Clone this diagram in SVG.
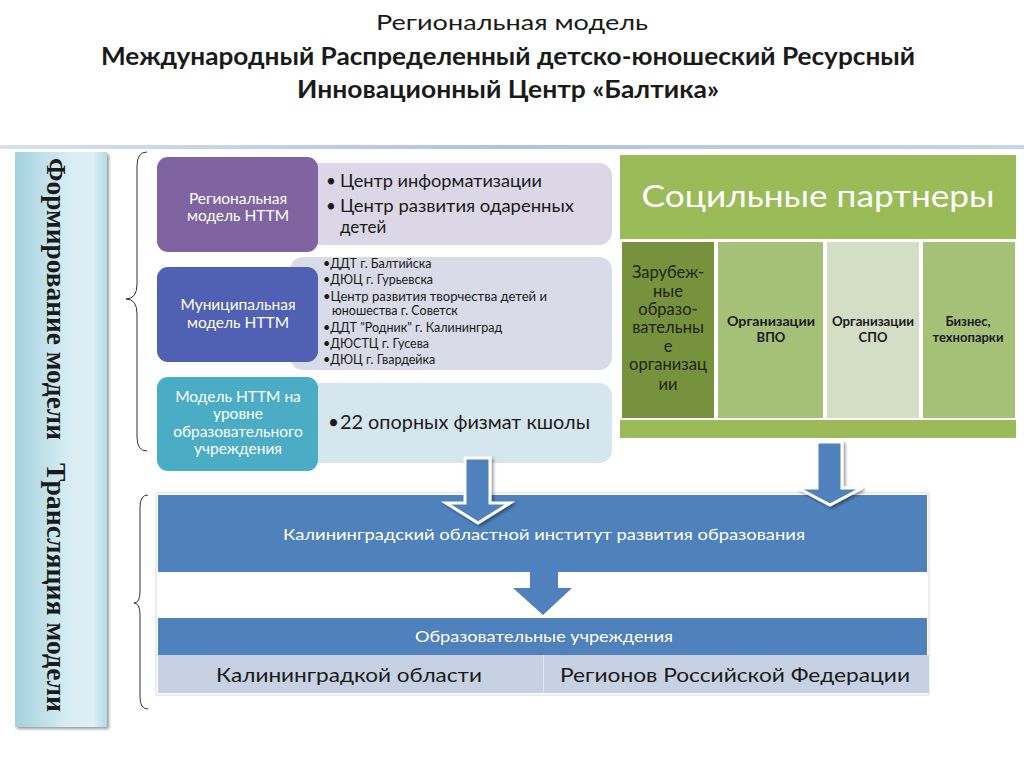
<svg xmlns="http://www.w3.org/2000/svg" width="1024" height="768" viewBox="0 0 1024 768">
<style>
.t{font-family:Lato,"Open Sans","Noto Sans",sans-serif}
.w{fill:#fff}
.d{fill:#1a1a1a}
.lbl{font-size:15.5px;fill:#fff;text-anchor:middle}
.brace{fill:none;stroke:#333;stroke-width:1}
.ar{fill:#4f81bd;stroke:#fff;stroke-width:3;stroke-linejoin:miter}
</style>
<defs>
<linearGradient id="hl" x1="0" x2="1" y1="0" y2="0">
<stop offset="0" stop-color="#d6e1f2"/>
<stop offset="0.5" stop-color="#adc2e3"/>
<stop offset="1" stop-color="#c6d5ec"/>
</linearGradient>
<linearGradient id="vb" x1="0" x2="1" y1="0" y2="0">
<stop offset="0" stop-color="#a2d1dd"/>
<stop offset="0.55" stop-color="#d6ecf2"/>
<stop offset="0.85" stop-color="#dff0f5"/>
<stop offset="1" stop-color="#b3dbe5"/>
</linearGradient>
<filter id="sh" x="-10%" y="-10%" width="130%" height="130%">
<feGaussianBlur in="SourceAlpha" stdDeviation="1.5"/>
<feOffset dx="1.5" dy="1.5"/>
<feComponentTransfer><feFuncA type="linear" slope="0.4"/></feComponentTransfer>
<feMerge><feMergeNode/><feMergeNode in="SourceGraphic"/></feMerge>
</filter>
</defs>
<rect width="1024" height="768" fill="#fff"/>

<g id="title" class="t d" text-anchor="middle">
<text x="512" y="30" font-size="22" textLength="272" lengthAdjust="spacingAndGlyphs">Региональная модель</text>
<text x="508" y="65" font-size="24" font-weight="bold" textLength="814" lengthAdjust="spacingAndGlyphs">Международный Распределенный детско-юношеский Ресурсный</text>
<text x="508" y="98" font-size="24" font-weight="bold" textLength="422" lengthAdjust="spacingAndGlyphs">Инновационный Центр «Балтика»</text>
</g>

<rect id="hline" x="0" y="145" width="1024" height="4" fill="url(#hl)"/>

<g id="sidebar">
<rect x="15" y="152" width="92" height="575" fill="url(#vb)" filter="url(#sh)"/>
<text class="d" font-family="'Liberation Serif','Times New Roman',serif" font-weight="bold" font-size="27" transform="translate(47,158) rotate(90)" textLength="282" lengthAdjust="spacingAndGlyphs">Формирование модели</text>
<text class="d" font-family="'Liberation Serif','Times New Roman',serif" font-weight="bold" font-size="27" transform="translate(47,463) rotate(90)" textLength="249" lengthAdjust="spacingAndGlyphs">Трансляция модели</text>
</g>

<g id="braces">
<path class="brace" d="M147,152 Q137,152 137,166 L137,284 Q137,299 126,299 Q137,299 137,314 L137,437 Q137,451 147,451"/>
<path class="brace" d="M148,495 Q140,495 140,507 L140,591 Q140,603 134,603 Q140,603 140,615 L140,697 Q140,709 148,709"/>
</g>

<g id="regional">
<rect x="290" y="163" width="322" height="82" rx="13" fill="#dcd7e7"/>
<rect x="157" y="157" width="161" height="95" rx="11" fill="#8064a2"/>
<text class="t lbl" x="238" y="204">Региональная</text>
<text class="t lbl" x="238" y="221">модель НТТМ</text>
<g class="t" font-size="17" fill="#1a1a1a">
<text x="326" y="187">•</text><text x="340" y="187" textLength="202" lengthAdjust="spacingAndGlyphs">Центр информатизации</text>
<text x="326" y="212">•</text><text x="340" y="212" textLength="234" lengthAdjust="spacingAndGlyphs">Центр развития одаренных</text>
<text x="340" y="233">детей</text>
</g>
</g>

<g id="municipal">
<rect x="290" y="257" width="322" height="113" rx="13" fill="#d9dbe8"/>
<rect x="157" y="267" width="161" height="95" rx="11" fill="#5060b2"/>
<text class="t lbl" x="238" y="310">Муниципальная</text>
<text class="t lbl" x="238" y="328">модель НТТМ</text>
<g class="t" font-size="12.5" fill="#1a1a1a">
<text x="323" y="268">•ДДТ г. Балтийска</text>
<text x="323" y="284">•ДЮЦ г. Гурьевска</text>
<text x="323" y="301" textLength="224" lengthAdjust="spacingAndGlyphs">•Центр развития творчества детей и</text>
<text x="332" y="315">юношества г. Советск</text>
<text x="323" y="332">•ДДТ "Родник" г. Калининград</text>
<text x="323" y="348">•ДЮСТЦ г. Гусева</text>
<text x="323" y="364">•ДЮЦ г. Гвардейка</text>
</g>
</g>

<g id="school">
<rect x="290" y="383" width="322" height="80" rx="13" fill="#d5e6ee"/>
<rect x="157" y="377" width="161" height="94" rx="11" fill="#4bacc6"/>
<text class="t lbl" x="238" y="402">Модель НТТМ на</text>
<text class="t lbl" x="238" y="419">уровне</text>
<text class="t lbl" x="238" y="437">образовательного</text>
<text class="t lbl" x="238" y="454">учреждения</text>
<g class="t" font-size="19" fill="#1a1a1a">
<text x="328" y="429">•</text><text x="340" y="429" textLength="250" lengthAdjust="spacingAndGlyphs">22 опорных физмат кшолы</text>
</g>
</g>

<g id="partners">
<rect x="620" y="155" width="396" height="84" fill="#9bbb59"/>
<text class="t w" x="818" y="207" font-size="30" text-anchor="middle" textLength="353" lengthAdjust="spacingAndGlyphs">Социльные партнеры</text>
<rect x="622" y="242" width="92" height="176" fill="#76923c"/>
<rect x="718" y="242" width="105" height="176" fill="#a5c178"/>
<rect x="827" y="242" width="92" height="176" fill="#d3dec5"/>
<rect x="923" y="242" width="92" height="176" fill="#a5c178"/>
<rect x="620" y="420" width="396" height="18" fill="#9bbb59"/>
<g class="t" font-size="16.5" fill="#1e2410" text-anchor="middle">
<text x="668" y="278">Зарубеж-</text>
<text x="668" y="297">ные</text>
<text x="668" y="315">образо-</text>
<text x="668" y="333">вательны</text>
<text x="668" y="352">е</text>
<text x="668" y="370">организац</text>
<text x="668" y="390">ии</text>
</g>
<g class="t" font-size="13" font-weight="bold" fill="#1a1a1a" text-anchor="middle">
<text x="771" y="326" textLength="88" lengthAdjust="spacingAndGlyphs">Организации</text>
<text x="771" y="342">ВПО</text>
<text x="873" y="326" textLength="82" lengthAdjust="spacingAndGlyphs">Организации</text>
<text x="873" y="342">СПО</text>
<text x="968" y="326">Бизнес,</text>
<text x="968" y="342">технопарки</text>
</g>
</g>

<g id="translation">
<rect x="156" y="493" width="773" height="202" fill="#fff" stroke="#dcdcdc" stroke-width="1"/>
<rect x="158" y="495" width="769" height="77" fill="#4f81bd"/>
<text class="t w" x="544" y="540" font-size="16" text-anchor="middle" textLength="522" lengthAdjust="spacingAndGlyphs">Калининградский областной институт развития образования</text>
<rect x="158" y="618" width="769" height="37" fill="#4f81bd"/>
<text class="t w" x="544" y="642" font-size="16" text-anchor="middle" textLength="258" lengthAdjust="spacingAndGlyphs">Образовательные учреждения</text>
<rect x="158" y="655" width="385" height="38" fill="#c6d1e4"/>
<rect x="544" y="655" width="385" height="38" fill="#c6d1e4"/>
<line x1="543.5" y1="655" x2="543.5" y2="693" stroke="#dfe5ef" stroke-width="1"/>
<text class="t d" x="349" y="682" font-size="19" text-anchor="middle" textLength="266" lengthAdjust="spacingAndGlyphs">Калининградкой области</text>
<text class="t d" x="735" y="682" font-size="19" text-anchor="middle" textLength="350" lengthAdjust="spacingAndGlyphs">Регионов Российской Федерации</text>
</g>

<g id="connectors">
<polygon class="ar" filter="url(#sh)" points="465,458 490,458 490,503 510,503 478,523 446,503 465,503"/>
<polygon class="ar" filter="url(#sh)" points="817,442 842,442 842,488 862,488 830,505 798,488 817,488"/>
<polygon fill="#4f81bd" points="530,572 558,572 558,588 572,588 543,615 513,588 530,588"/>
</g>
</svg>
